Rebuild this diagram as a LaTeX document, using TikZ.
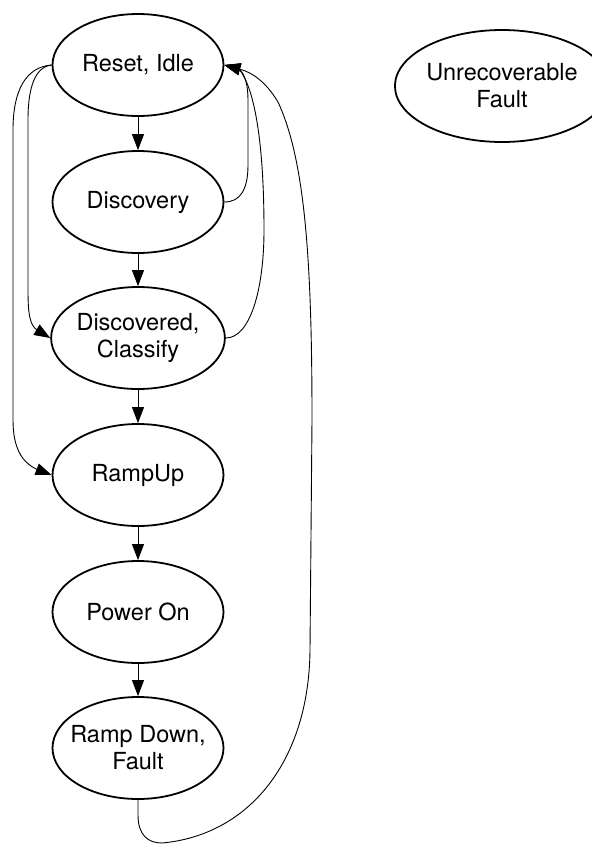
\documentclass[tikz,border=0pt]{standalone}
\usepackage{fontspec}
\setmainfont{TeX Gyre Heros}
\usetikzlibrary{arrows.meta,shapes.geometric}
\begin{document}
\begin{tikzpicture}[x=1pt,y=-1pt,
  state/.style={ellipse,draw,line width=1.8pt,inner sep=0pt,minimum width=171pt,minimum height=102pt,
    align=center,font=\fontsize{23.5}{27}\selectfont},
  edge/.style={line width=0.9pt,-{Triangle[length=16pt,width=12pt]}},
  plain/.style={line width=0.9pt}]
\useasboundingbox (0,0) rectangle (592,844);
\node[state] (reset) at (138,65) {Reset, Idle};
\node[state] (disc) at (138,202) {Discovery};
\node[state] (dcl) at (138,338) {Discovered,\\Classify};
\node[state] (ramp) at (138,475) {RampUp};
\node[state] (pon) at (138,612) {Power On};
\node[state] (rdf) at (138,748) {\makebox[0pt]{Ramp Down,}\\Fault};
\node[state,minimum width=181pt,minimum height=112pt] (unrec) at (502,86) {Unrecoverable\\Fault};
% straight transitions
\draw[edge] (reset) -- (disc);
\draw[edge] (disc) -- (dcl);
\draw[edge] (dcl) -- (ramp);
\draw[edge] (ramp) -- (pon);
\draw[edge] (pon) -- (rdf);
% left side
\draw[edge] (reset.west) .. controls (36,67) and (28,85) .. (28,120) -- (28,290)
  .. controls (28,315) and (30,325) .. (37,330) -- (dcl.west);
\draw[edge] (reset.west) .. controls (26,67) and (13,90) .. (13,130) -- (13,420)
  .. controls (13,448) and (22,462) .. (36,469) -- (ramp.west);
% right side returns
\draw[edge] (disc.east) .. controls (240,202) and (248,190) .. (248,165) -- (248,100)
  .. controls (248,85) and (245,74) .. (239,69) -- (reset.east);
\draw[edge] (dcl.east) .. controls (250,338) and (264,290) .. (264,230)
  .. controls (264,150) and (256,90) .. (239,69) -- (reset.east);
\draw[edge] (rdf.south) -- (138,815) .. controls (138,835) and (148,843) .. (162,843)
  .. controls (250,835) and (309,760) .. (310,650) -- (312,420)
  .. controls (312,260) and (305,160) .. (278,102)
  .. controls (266,82) and (252,72) .. (239,69) -- (reset.east);
\end{tikzpicture}
\end{document}
